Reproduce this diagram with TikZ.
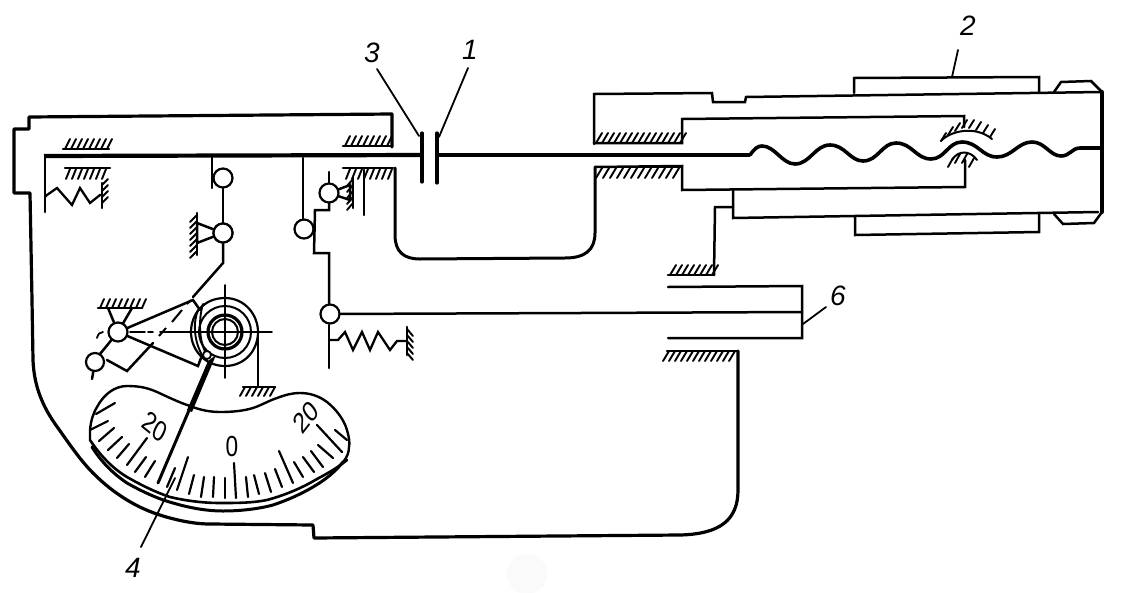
\documentclass[tikz,border=0pt]{standalone}
\usepackage{fontspec}
\setmainfont{Liberation Sans}
\usetikzlibrary{calc}
\tikzset{
 body/.style={line width=2.5pt,line join=miter},
 thin line/.style={line width=1.8pt},
 hatch/.style={line width=1.9pt},
 pivot/.style={circle,draw,line width=2.2pt,minimum size=19pt,inner sep=0pt,fill=white},
 lbl/.style={font=\itshape\fontsize{28pt}{30pt}\selectfont,inner sep=0pt},
 dialnum/.style={font=\fontsize{29pt}{30pt}\selectfont,inner sep=0pt,xscale=.78},
}
\newcommand{\hatchh}[5]{%
 \draw[line width=2.6pt] (#1,#3)--(#2,#3);
 \pgfmathsetmacro{\xa}{#1+2}\pgfmathsetmacro{\xb}{#1+8}
 \foreach \q in {\xa,\xb,...,#2} \draw[hatch] (\q,#3)--++(#4,#5);}
\newcommand{\hatchv}[5]{%
 \draw[line width=2.6pt] (#1,#2)--(#1,#3);
 \pgfmathsetmacro{\xa}{#2+2}\pgfmathsetmacro{\xb}{#2+8}
 \foreach \q in {\xa,\xb,...,#3} \draw[hatch] (#1,\q)--++(#4,#5);}
\begin{document}
\begin{tikzpicture}[x=1pt,y=-1pt,line cap=round]
\useasboundingbox (0,0) rectangle (1125,592);
\fill[white] (0,0) rectangle (1125,592);
\fill[black!2] (527,574) circle (20);
% outer frame
\draw[line width=3.2pt,line join=round] (392,147)--(392,114)--(29,117)--(29,129)--(14,129)--(14,193)--(30,193)--(32,300)--(33,360)
  .. controls (34,388) and (44,409) .. (58,428)
  .. controls (68,442) and (80,460) .. (93,473)
  .. controls (104,484) and (114,492) .. (127,500)
  .. controls (142,509) and (155,514) .. (170,518)
  .. controls (185,522) and (198,524) .. (210,524)--(313,525)--(314,538)--(680,535)
  .. controls (720,534) and (738,520) .. (738,490)--(738,351);
% U of body
\draw[body,line width=3pt] (395,168)--(395,235) .. controls (395,252) and (404,259) .. (420,259)--(565,258) .. controls (585,258) and (595,250) .. (595,233)--(595,167);
% right assembly
\draw[body] (594,144)--(594,94)--(712,93)--(713,102)--(745,102)--(746,97)--(1101,92);
\draw[body] (594,143)--(682,143)--(682,119)--(964,116)--(964,127);
\draw[body] (595,167)--(682,166)--(682,190)--(965,187)--(965,160);
\draw[body] (733,190)--(733,218)--(1098,212);
\draw[body] (733,207)--(715,207)--(714,275);
\draw[body] (854,93)--(854,78)--(1039,77)--(1039,92);
\draw[body] (855,217)--(855,235)--(1039,232)--(1039,214);
\draw[body] (1054,92)--(1061,82)--(1091,81)--(1102,92);
\draw[body] (1054,214)--(1063,224)--(1094,223)--(1102,212);
\draw[line width=4pt] (1102,92)--(1102,212);
% hatchings, right
\hatchh{594}{680}{143}{6}{-10}
\draw[line width=2.6pt] (595,167)--(682,167);
\foreach \q in {602,609,...,682} \draw[hatch] (\q,168)--++(-6,10);
\hatchh{668}{714}{275}{6}{-10}
\draw[body] (668,287)--(802,286)--(802,338)--(668,338);
\draw[body] (802,312)--(580,313);
\hatchh{667}{738}{351}{-6}{10}
% bearing arcs
\draw[line width=2pt] (941,141) .. controls (950,131) and (975,125) .. (992,139);
\foreach \a/\b in {941/141,948/135,955/131,962/128,969/128,976/130,983/133,990/137} \draw[hatch] (\a,\b)--++(5,-8);
\draw[line width=2pt] (952,160) .. controls (958,150) and (970,150) .. (977,160);
\foreach \a/\b in {953/158,960/154,967/154,974/158} \draw[hatch] (\a,\b)--++(-5,9);
% main rod with wave
\draw[line width=4.2pt,line cap=butt] (44,156)--(422,155);
\draw[line width=4.2pt,line cap=butt] (437,155)--(750,155);
\draw[line width=3.6pt] (750,155) .. controls (755,148) and (758,146) .. (762,146)
  .. controls (775,146) and (782,164) .. (795,164)
  .. controls (810,164) and (815,145) .. (830,145)
  .. controls (845,145) and (850,161) .. (863,161)
  .. controls (878,161) and (882,143) .. (896,143)
  .. controls (912,143) and (916,159) .. (931,159)
  .. controls (945,159) and (948,142) .. (962,142)
  .. controls (978,142) and (982,157) .. (997,157)
  .. controls (1012,157) and (1018,142) .. (1032,142)
  .. controls (1045,142) and (1050,156) .. (1061,156)
  .. controls (1070,156) and (1072,148) .. (1080,148)--(1101,148);
% plates 3 and 1
\draw[line width=3.2pt] (422,133)--(422,182);
\draw[line width=3.2pt] (437,133)--(437,183);
% labels
\node[lbl] (n3) at (372,53) {3};
\node[lbl] (n1) at (470,50) {1};
\node[lbl] (n2) at (968,26) {2};
\node[lbl] (n6) at (838,296) {6};
\node[lbl] (n4) at (133,568) {4};
\coordinate (a3) at (419,136);
\coordinate (a1) at (439,137);
\draw[thin line] (377,69)--(a3);
\draw[thin line] (468,68)--(a1);
\draw[thin line] (958,50)--(952,77);
\draw[thin line] (803,324)--(826,307);
% left hatch and springs
\hatchh{63}{109}{149}{5}{-10}
\draw[line width=2.6pt] (65,168)--(110,168);
\foreach \q in {70,76,...,110} \draw[hatch] (\q,169)--++(-4,10);
\draw[body] (45,156)--(45,212);
\draw[line width=2.3pt] (45,197)--(47,195)--(57,188)--(72,205)--(80,188)--(90,203)--(100,195)--(102,195);
\hatchv{102}{183}{208}{6}{-6}
\hatchh{343}{392}{146}{5}{-10}
\draw[line width=2.6pt] (343,168)--(393,168);
\foreach \q in {350,356,...,394} \draw[hatch] (\q,169)--++(-4,10);
% left lever
\draw[body] (212,157)--(212,188);
\node[pivot] (pa) at (223,178) {};
\node[pivot] (pb) at (223,233) {};
\draw[body] (pa)--(pb);
\draw[body] (pb)--(223,263)--(193,297);
\draw[body] (pb.center)--(197,223)--(197,243)--cycle;
\node[pivot] at (223,233) {};
\hatchv{197}{213}{255}{-7}{7}
% centre lever
\draw[body] (303,158)--(303,220);
\node[pivot] (pc) at (304,229) {};
\draw[body] (329,203)--(329,210)--(315,210)--(314,253)--(329,253)--(329,306);
\draw[body] (329,172)--(329,185);
\draw[body] (329,193)--(350,185)--(350,200)--cycle;
\node[pivot] (pd) at (329,193) {};
\hatchv{353}{177}{208}{-6}{7}
\draw[body] (364,170)--(364,215);
\node[pivot] (pe) at (330,314) {};
\draw[body] (pe)--(580,313);
\draw[body] (329,325)--(329,368);
\draw[line width=2.3pt] (330,340)--(338,340)--(345,332)--(353,350)--(362,332)--(370,350)--(378,332)--(390,350)--(397,341)--(407,341);
\hatchv{407}{327}{355}{6}{7}
% pivot mechanism
\hatchh{98}{142}{308}{4}{-9}
\draw[body] (108,308)--(118,332)--(132,308);
\draw[body] (118,332)--(193,300)--(200,310);
\draw[body] (118,332)--(198,366)--(201,358);
\draw[body] (118,332)--(100,354);
\node[pivot] (pf) at (118,332) {};
\node[pivot,minimum size=18pt] (pg) at (95,362) {};
\draw[body] (pg)--(92,379);
\draw[body] (107,360)--(127,371)--(153,343);
\draw[line width=2pt,line cap=butt] (159,336)--(166,328) (172,322)--(182,310) (187,304)--(191,300);
\draw[line width=1.8pt] (97,338) .. controls (98,334) and (100,332) .. (103,332);
\draw[line width=1.8pt] (130,332)--(145,332) (148,332)--(153,332) (160,332)--(272,332);
\draw[line width=1.8pt] (225,285)--(225,378);
\draw[line width=2.2pt] (225,298) .. controls (203,298) and (191,315) .. (191,332) .. controls (191,350) and (205,366) .. (225,366) .. controls (245,366) and (258,350) .. (258,332) .. controls (258,315) and (245,298) .. (225,298);
\draw[line width=2pt] (225,332) circle[radius=26];
\node[circle,draw,line width=3.2pt,minimum size=34pt,inner sep=0pt] (ph) at (225,332) {};
\node[circle,draw,line width=2pt,minimum size=26pt,inner sep=0pt] (pi) at (225,332) {};
\draw[body] (258,332)--(258,387);
\hatchh{243}{275}{387}{-5}{9}
\draw[line width=1.9pt] (198,310) .. controls (192,325) and (195,345) .. (204,358);
\draw[line width=1.9pt] (203,304) .. controls (198,320) and (199,345) .. (208,356);
\node[circle,draw,line width=1.8pt,minimum size=8pt,inner sep=0pt,fill=white] (ps) at (207,355) {};
% dial
\draw[line width=2.4pt] (90,440)--(90,430) .. controls (91,420) and (93,414) .. (97,407)
  .. controls (104,394) and (115,386) .. (127,386)
  .. controls (140,386) and (148,388) .. (157,392)
  .. controls (168,397) and (178,402) .. (190,406)
  .. controls (200,410) and (210,412) .. (220,412)
  .. controls (232,412) and (243,411) .. (253,408)
  .. controls (262,405) and (268,401) .. (277,398)
  .. controls (285,395) and (292,393) .. (300,393)
  .. controls (310,393) and (319,396) .. (327,402)
  .. controls (337,410) and (344,420) .. (347,430)
  .. controls (349,437) and (350,443) .. (349,447)
  .. controls (349,452) and (347,458) .. (343,462);
\draw[line width=2.6pt] (90,440) .. controls (100,455) and (112,468) .. (127,477)
  .. controls (141,485) and (155,492) .. (170,497)
  .. controls (187,501) and (204,503) .. (220,503)
  .. controls (237,503) and (252,503) .. (267,500)
  .. controls (282,496) and (297,490) .. (310,483)
  .. controls (322,476) and (335,470) .. (347,460);
\draw[line width=3pt] (92,447) .. controls (100,460) and (112,473) .. (127,483)
  .. controls (141,491) and (158,499) .. (173,503)
  .. controls (190,508) and (207,511) .. (223,511)
  .. controls (240,511) and (258,509) .. (273,505)
  .. controls (288,500) and (301,494) .. (313,487)
  .. controls (325,480) and (335,472) .. (343,462);
\foreach \xa/\ya/\xb/\yb in {
 96/414/115/403, 90/430/108/421, 99/441/114/428, 108/450/122/437, 117/458/129/444, 127/465/147/438,
 135/472/146/457, 145/477/155/461, 167/487/175/468, 177/490/188/457,
 189/494/194/475, 201/497/204/477, 213/497/214/477, 225/498/225/478, 236/498/234/463,
 248/497/246/477, 259/494/254/475, 271/492/265/473, 282/487/275/469, 293/483/279/451, 303/477/294/462,
 314/472/303/457, 323/467/311/451, 333/458/318/445, 342/452/317/425, 347/440/335/430} \draw[line width=2.2pt] (\xa,\ya)--(\xb,\yb);
\node[dialnum,rotate=-32] (d1) at (155,427) {20};
\node[dialnum] (d2) at (232,447) {0};
\node[dialnum,rotate=45] (d3) at (306,417) {20};
% pointer
\fill (208,361)--(216,355)--(192,412)--(187,410)--cycle;
\draw[line width=3pt] (190,408)--(158,483);
\draw[thin line] (175,478)--(141,547);
\end{tikzpicture}
\end{document}
